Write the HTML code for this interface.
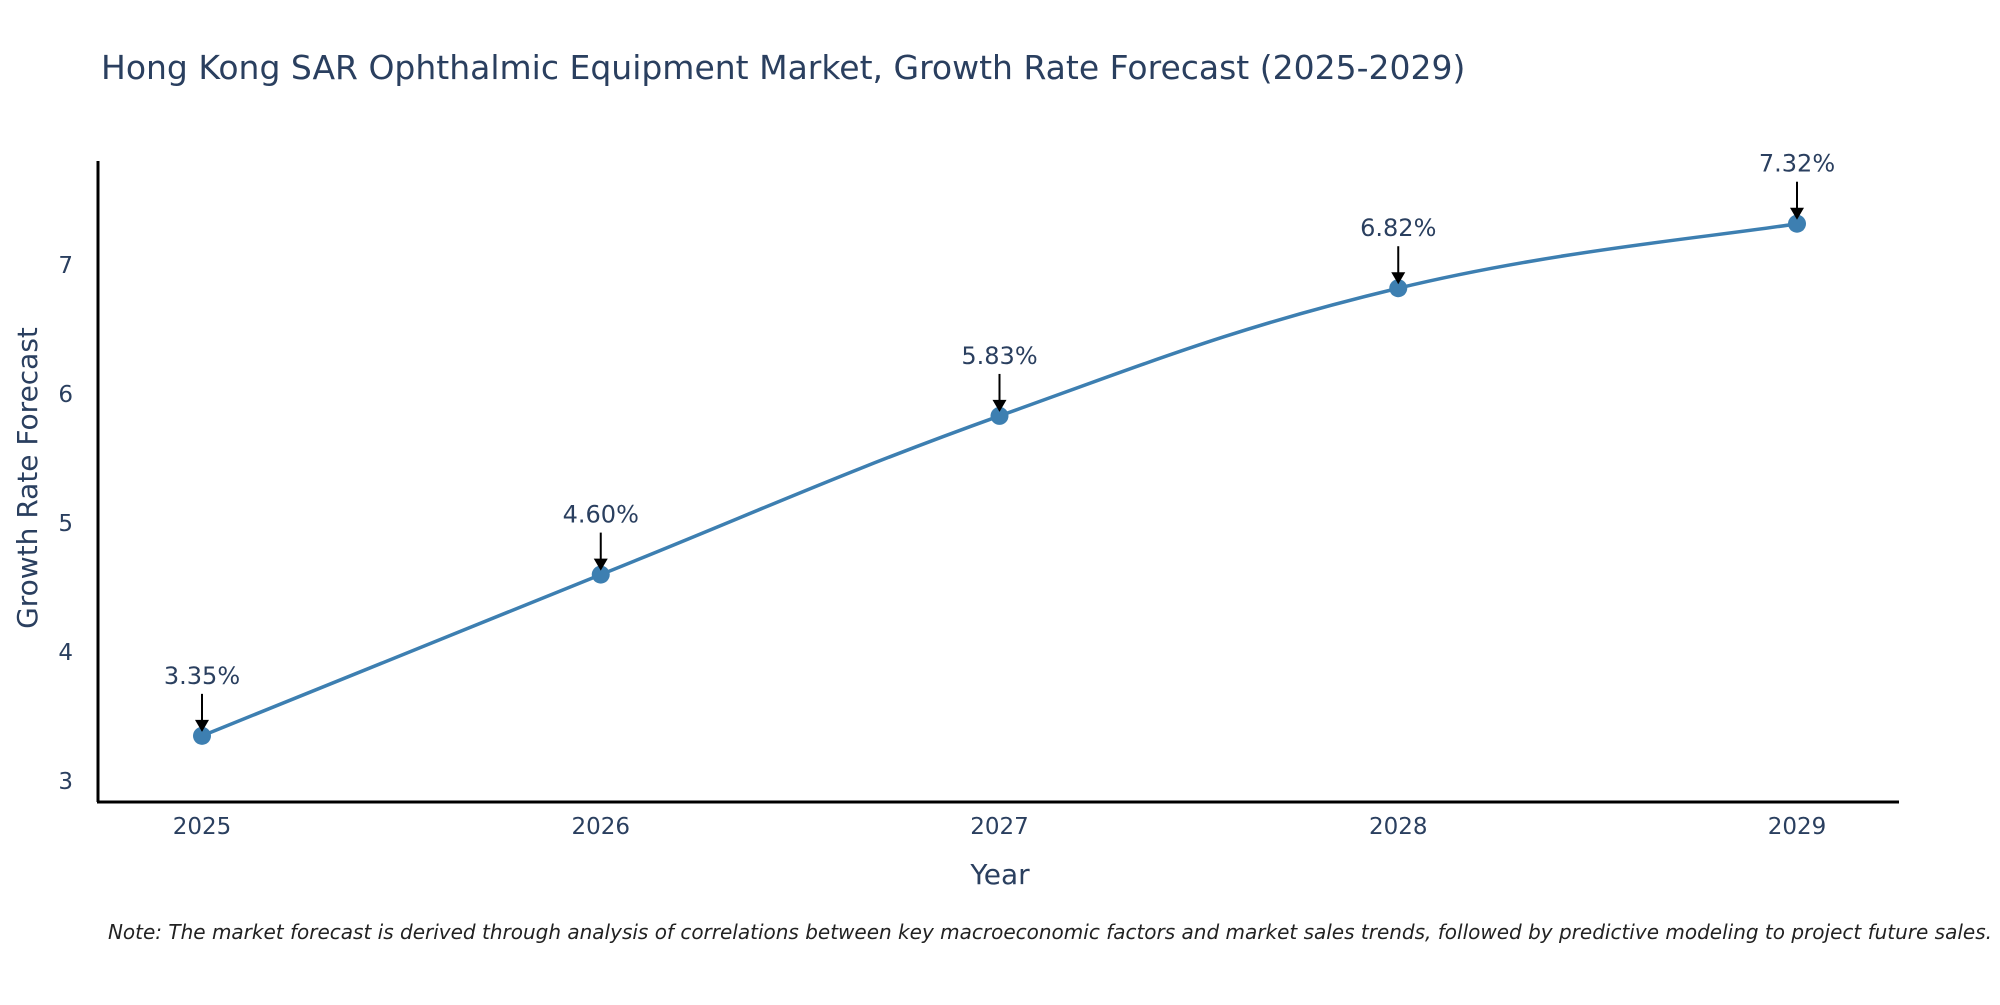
<!DOCTYPE html>
<html><head><meta charset="utf-8"><style>
body{margin:0;background:#fff;}
svg text{font-family:"DejaVu Sans","Liberation Sans",sans-serif;fill:#2a3f5f;}
</style></head><body>
<svg id="chart" width="2000" height="1000" xmlns="http://www.w3.org/2000/svg">
<text x="101" y="79" font-size="33">Hong Kong SAR Ophthalmic Equipment Market, Growth Rate Forecast (2025-2029)</text>
<g id="axes"></g>
<g id="series"></g>
<text x="1000" y="884" font-size="28" text-anchor="middle">Year</text>
<text transform="translate(37,478) rotate(-90)" font-size="28" text-anchor="middle">Growth Rate Forecast</text>
<text x="1992" y="939" font-size="20" font-style="italic" text-anchor="end" style="fill:#222">Note: The market forecast is derived through analysis of correlations between key macroeconomic factors and market sales trends, followed by predictive modeling to project future sales.</text>
</svg>
<script>
const years = [2025, 2026, 2027, 2028, 2029];
const rates = [3.35, 4.60, 5.83, 6.82, 7.32];
const labels = ["3.35%", "4.60%", "5.83%", "6.82%", "7.32%"];
const yTicks = [3, 4, 5, 6, 7];

const NS = "http://www.w3.org/2000/svg";
const xScale = v => 202 + (v - 2025) * 398.75;
const yScale = v => 781 - (v - 3) * 129;
function mk(tag, attrs, parent){const e=document.createElementNS(NS,tag);for(const k in attrs)e.setAttribute(k,attrs[k]);parent.appendChild(e);return e;}
const axes=document.getElementById('axes'), ser=document.getElementById('series');

let l=mk('line',{x1:98,y1:161,x2:98,y2:802,stroke:'#000','stroke-width':3},axes);


l=mk('line',{x1:97,y1:802,x2:1899,y2:802,stroke:'#000','stroke-width':3},axes);



yTicks.forEach(t=>{
  const e=mk('text',{x:73,y:yScale(t)+8,'font-size':23,'text-anchor':'end'},axes);
  e.textContent=t;
  
  
});
years.forEach(y=>{
  const e=mk('text',{x:xScale(y),y:834,'font-size':23,'text-anchor':'middle'},axes);
  e.textContent=y;
  
  
});

const pts=years.map((y,i)=>[xScale(y),yScale(rates[i])]);
let d=`M${pts[0][0]},${pts[0][1]}`;
const s=0.2;
for(let i=0;i<pts.length-1;i++){
  const p0=pts[Math.max(i-1,0)],p1=pts[i],p2=pts[i+1],p3=pts[Math.min(i+2,pts.length-1)];
  const c1=[p1[0]+(p2[0]-p0[0])*s,p1[1]+(p2[1]-p0[1])*s];
  const c2=[p2[0]-(p3[0]-p1[0])*s,p2[1]-(p3[1]-p1[1])*s];
  d+=` C${c1[0]},${c1[1]} ${c2[0]},${c2[1]} ${p2[0]},${p2[1]}`;
}
const path=mk('path',{d:d,fill:'none',stroke:'#3d7fb1','stroke-width':3.5},ser);



pts.forEach((p,i)=>{
  const c=mk('circle',{cx:p[0],cy:p[1],r:9,fill:'#3d7fb1'},ser);
  
  
  const a=mk('line',{x1:p[0],y1:p[1]-42,x2:p[0],y2:p[1]-12,stroke:'#000','stroke-width':2},ser);
  
  
  const h=mk('polygon',{points:`${p[0]-7},${p[1]-16} ${p[0]+7},${p[1]-16} ${p[0]},${p[1]-4}`,fill:'#000'},ser);
  
  
  const t=mk('text',{x:p[0],y:p[1]-52,'font-size':24,'text-anchor':'middle'},ser);
  t.textContent=labels[i];
  
  
});
</script>
</body></html>
